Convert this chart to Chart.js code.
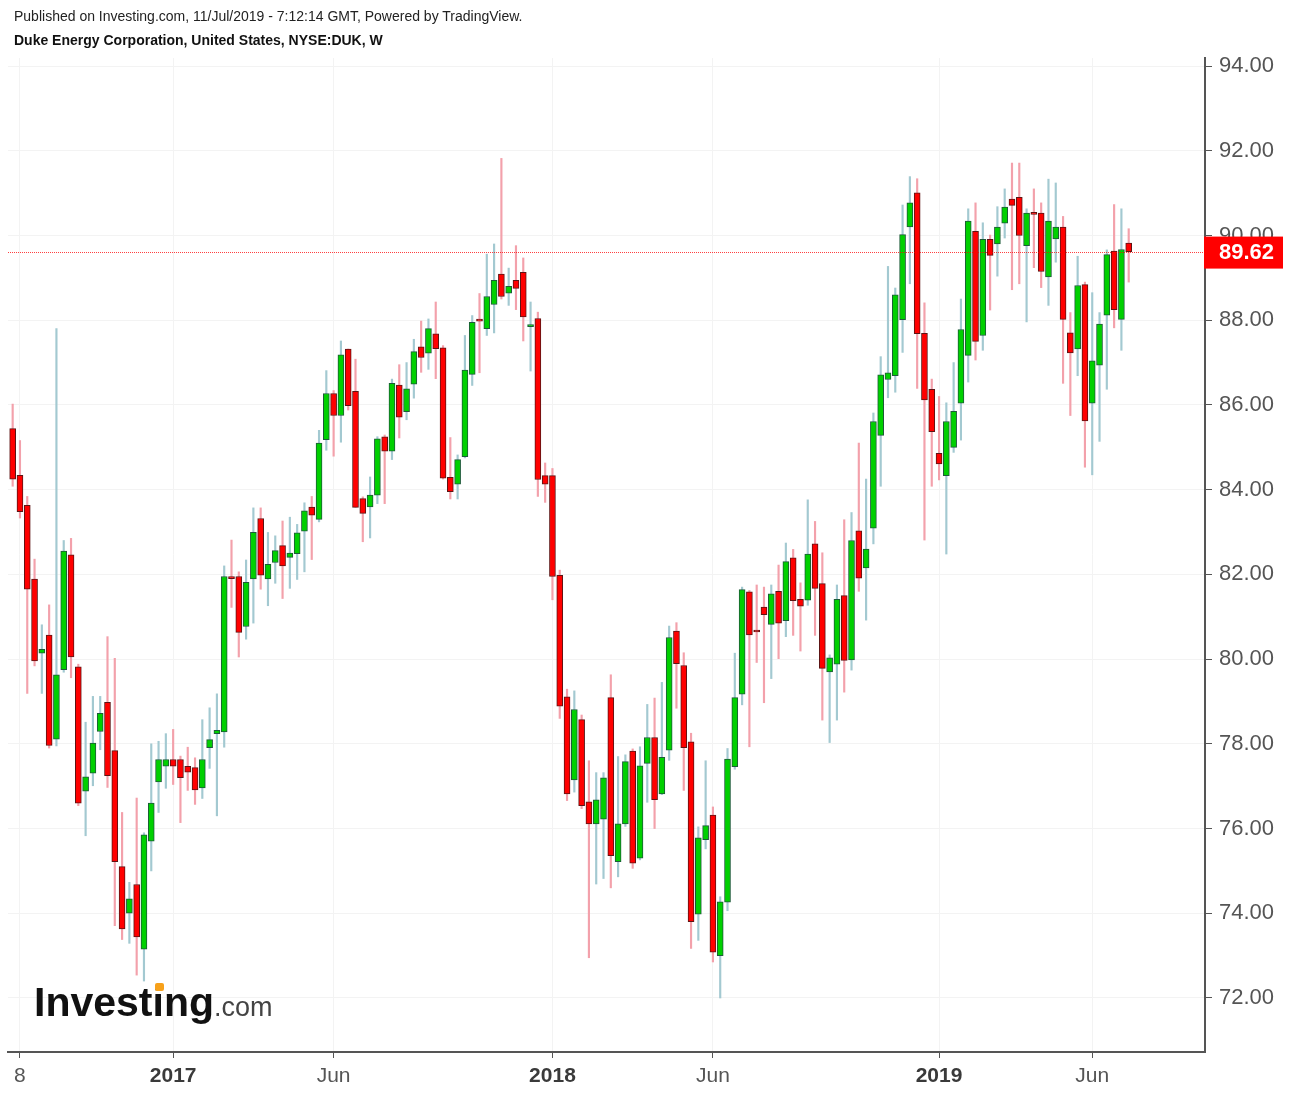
<!DOCTYPE html>
<html>
<head>
<meta charset="utf-8">
<title>Duke Energy Corporation, NYSE:DUK, W</title>
<script src="https://cdn.jsdelivr.net/npm/chart.js@4.4.1/dist/chart.umd.min.js"></script>
<style>
  html, body { margin: 0; padding: 0; background: #fff; }
  #wrap { position: relative; width: 1290px; height: 1094px; overflow: hidden;
          font-family: Arial, "Liberation Sans", Helvetica, sans-serif; }
  #chart { position: absolute; left: 0; top: 0; }
  .hdr { position: absolute; left: 14px; font-size: 14px; line-height: 16px; color: #222; white-space: nowrap; }
  #pub { top: 8px; }
  #sym { top: 32px; font-weight: bold; color: #111; }
  #logo { position: absolute; left: 34px; top: 982px; line-height: 40px; white-space: nowrap; }
  #logo .main { font-size: 41px; font-weight: bold; color: #111; }
  #logo .dom { font-size: 27px; color: #444; }
  #logo .dot { position: absolute; left: 121px; top: 1px; width: 9px; height: 8px; background: #f7a11a; border-radius: 2px; }
</style>
</head>
<body>
<div id="wrap">
  <canvas id="chart" width="1290" height="1094"></canvas>
  <div class="hdr" id="pub">Published on Investing.com, 11/Jul/2019 - 7:12:14 GMT, Powered by TradingView.</div>
  <div class="hdr" id="sym">Duke Energy Corporation, United States, NYSE:DUK, W</div>
  <div id="logo"><span class="main">Investing</span><span class="dom">.com</span><span class="dot"></span></div>
</div>
<script>
// weekly candles, first week = 1 Aug 2016, last week = 8 Jul 2019
const opens = [85.44, 84.34, 83.63, 81.89, 80.14, 80.57, 78.11, 79.75, 82.46, 79.82,
  76.88, 77.31, 78.29, 78.98, 77.84, 75.10, 74.00, 74.68, 73.15, 75.70,
  77.10, 77.47, 77.63, 77.63, 77.47, 77.44, 76.96, 77.91, 78.24, 78.28,
  81.93, 81.95, 80.77, 81.89, 83.32, 81.89, 82.28, 82.68, 82.40, 82.49,
  83.02, 83.59, 83.30, 85.18, 86.27, 85.75, 87.32, 86.32, 83.79, 83.59,
  83.87, 85.25, 84.91, 86.47, 85.84, 86.49, 87.37, 87.22, 87.68, 87.35,
  84.29, 84.13, 84.78, 86.72, 88.00, 87.80, 88.37, 89.09, 88.64, 88.94,
  89.13, 87.85, 88.04, 84.33, 84.33, 81.98, 79.11, 77.15, 78.57, 76.63,
  76.11, 76.22, 79.09, 75.22, 76.11, 77.83, 75.30, 77.54, 78.15, 76.82,
  77.85, 80.66, 79.85, 78.05, 73.98, 75.74, 76.32, 73.00, 74.26, 77.46,
  79.17, 81.59, 80.67, 81.23, 80.82, 81.60, 80.91, 82.39, 81.41, 81.39,
  82.72, 81.78, 79.70, 79.88, 81.50, 79.98, 83.03, 82.15, 83.09, 85.28,
  86.60, 86.69, 88.01, 90.20, 91.01, 87.69, 86.37, 84.86, 84.33, 85.00,
  86.04, 87.17, 90.10, 87.64, 89.91, 89.80, 90.29, 90.86, 90.90, 89.76,
  90.52, 90.53, 89.02, 89.92, 90.20, 87.70, 87.32, 88.84, 86.04, 86.94,
  88.12, 89.63, 88.02, 89.82];
const highs = [86.02, 85.16, 83.84, 82.36, 80.81, 81.28, 87.80, 82.80, 82.85, 79.88,
  78.51, 79.12, 79.12, 80.53, 80.02, 76.38, 74.73, 76.72, 75.90, 78.00,
  78.06, 78.24, 78.34, 77.71, 77.92, 77.67, 78.57, 78.85, 79.18, 82.20,
  82.81, 82.06, 82.34, 83.57, 83.57, 82.99, 82.91, 83.26, 83.35, 83.18,
  83.69, 83.84, 85.40, 86.81, 86.34, 87.51, 87.32, 87.08, 83.83, 84.30,
  85.25, 85.29, 86.61, 86.95, 87.00, 87.55, 87.98, 88.03, 88.43, 87.40,
  85.23, 84.82, 87.64, 88.11, 88.63, 89.56, 89.80, 91.82, 89.23, 89.76,
  89.47, 88.43, 88.19, 84.63, 84.50, 82.10, 79.29, 79.25, 78.68, 77.60,
  77.32, 77.32, 79.63, 77.70, 77.74, 77.88, 77.93, 78.93, 79.08, 79.45,
  80.78, 80.86, 80.15, 78.25, 76.04, 77.60, 76.51, 74.39, 77.89, 80.14,
  81.70, 81.62, 81.75, 81.70, 81.75, 82.22, 82.74, 82.59, 81.80, 83.76,
  83.25, 82.51, 80.10, 81.75, 83.29, 83.46, 85.10, 84.25, 85.81, 87.14,
  89.27, 88.76, 90.72, 91.39, 91.34, 88.41, 86.61, 86.20, 86.05, 87.00,
  88.50, 90.63, 90.77, 90.30, 90.01, 90.68, 91.10, 91.71, 91.71, 90.63,
  91.10, 90.77, 91.33, 91.24, 90.45, 88.18, 89.51, 88.90, 88.65, 88.18,
  89.66, 90.73, 90.63, 90.16];
const lows = [84.08, 83.33, 79.19, 79.84, 79.19, 77.90, 77.95, 79.69, 79.56, 76.54,
  75.83, 77.01, 77.86, 76.97, 73.71, 73.38, 73.29, 72.54, 72.40, 75.00,
  76.38, 76.95, 77.04, 76.14, 76.90, 76.57, 76.71, 77.42, 76.30, 77.92,
  81.22, 80.05, 80.47, 80.85, 81.65, 81.26, 81.79, 81.43, 81.67, 81.88,
  82.06, 82.35, 83.24, 84.93, 84.79, 85.12, 85.88, 83.58, 82.77, 82.86,
  83.67, 83.67, 84.71, 85.22, 85.65, 86.16, 86.77, 86.84, 86.62, 84.25,
  83.78, 83.78, 84.75, 86.46, 86.76, 87.64, 87.70, 88.50, 88.35, 88.25,
  87.51, 86.80, 83.84, 83.70, 81.40, 78.60, 76.66, 76.86, 76.47, 72.95,
  74.69, 74.82, 74.60, 74.86, 76.05, 75.06, 75.26, 76.62, 76.00, 76.80,
  77.61, 78.84, 76.90, 73.17, 73.36, 75.52, 72.85, 72.00, 74.06, 77.40,
  78.92, 77.93, 79.92, 78.97, 79.54, 80.01, 80.53, 80.56, 80.19, 81.27,
  80.56, 78.56, 78.03, 78.56, 79.22, 79.74, 81.60, 80.92, 82.72, 84.08,
  86.17, 86.30, 87.24, 88.86, 86.39, 82.81, 84.08, 84.23, 82.48, 84.88,
  85.17, 86.54, 87.06, 87.29, 88.24, 89.04, 89.94, 88.72, 88.86, 87.96,
  89.24, 88.77, 88.35, 89.37, 86.51, 85.75, 86.69, 84.53, 84.35, 85.14,
  86.37, 87.82, 87.29, 88.90];
const closes = [84.25, 83.48, 81.65, 79.96, 80.23, 77.96, 79.63, 82.55, 80.05, 76.60,
  77.22, 78.02, 78.72, 77.25, 75.22, 73.63, 74.34, 73.44, 75.85, 76.60,
  77.63, 77.63, 77.47, 77.20, 77.33, 76.91, 77.63, 78.10, 78.32, 81.95,
  81.90, 80.63, 81.81, 82.99, 81.98, 82.24, 82.56, 82.20, 82.50, 82.98,
  83.50, 83.40, 85.10, 86.27, 85.75, 87.18, 85.98, 83.58, 83.44, 83.87,
  85.20, 84.91, 86.51, 85.71, 86.38, 87.26, 87.12, 87.80, 87.33, 84.27,
  83.95, 84.71, 86.82, 87.95, 87.98, 88.56, 88.94, 88.56, 88.80, 88.75,
  88.08, 87.87, 84.24, 84.13, 81.95, 78.89, 76.82, 78.81, 76.54, 76.11,
  76.68, 77.20, 75.36, 76.11, 77.58, 75.18, 77.48, 78.15, 76.68, 77.68,
  80.51, 79.89, 77.91, 73.80, 75.78, 76.07, 73.08, 74.27, 77.64, 79.09,
  81.64, 80.57, 80.64, 81.05, 81.54, 80.85, 82.30, 81.38, 81.25, 82.48,
  81.67, 79.78, 80.03, 81.41, 79.97, 82.80, 81.91, 82.60, 85.61, 86.71,
  86.76, 88.60, 90.02, 90.77, 87.68, 86.12, 85.37, 84.61, 85.61, 85.85,
  87.78, 90.34, 87.50, 89.91, 89.53, 90.20, 90.67, 90.71, 90.00, 90.53,
  90.50, 89.15, 90.34, 90.20, 88.02, 87.23, 88.82, 85.62, 87.04, 87.91,
  89.55, 88.25, 89.67, 89.62];

// x-axis ticks (week index) and their labels
const tickWeeks = [1, 22, 44, 74, 96, 127, 148];
const tickLabels = ['8', '2017', 'Jun', '2018', 'Jun', '2019', 'Jun'];
// y-axis ticks
const priceTicks = [72, 74, 76, 78, 80, 82, 84, 86, 88, 90, 92, 94];

const FONT = 'Arial, "Liberation Sans", Helvetica, sans-serif';
const lastPrice = closes[closes.length - 1];
const weeks = closes.map((_, i) => i);
const isUp = i => closes[i] >= opens[i];
const isYear = i => /^\d{4}$/.test(tickLabels[i]);

const xMin = -0.64, xMax = 163.46;
const yMin = 70.725, yMax = 94.19;

// dotted last-price line across the plot, red box with the price on the axis
const lastPriceMarker = {
  id: 'lastPriceMarker',
  afterDatasetsDraw(chart) {
    const { ctx, chartArea, scales } = chart;
    const y = Math.round(scales.y.getPixelForValue(lastPrice)) + 0.5;
    ctx.save();
    ctx.strokeStyle = 'rgba(255, 0, 0, 0.75)';
    ctx.lineWidth = 1;
    ctx.setLineDash([1, 1]);
    ctx.beginPath();
    ctx.moveTo(chartArea.left, y);
    ctx.lineTo(chartArea.right, y);
    ctx.stroke();
    ctx.restore();
  },
  afterDraw(chart) {
    const { ctx, chartArea, scales } = chart;
    const y = scales.y.getPixelForValue(lastPrice);
    ctx.save();
    ctx.fillStyle = '#ff0000';
    ctx.fillRect(chartArea.right - 1, y - 15, 79, 32);
    ctx.fillStyle = '#ffffff';
    ctx.font = 'bold 22px ' + FONT;
    ctx.textBaseline = 'middle';
    ctx.textAlign = 'left';
    ctx.fillText(lastPrice.toFixed(2), chartArea.right + 14, y + 1.5);
    ctx.restore();
  }
};

new Chart(document.getElementById('chart'), {
  type: 'bar',
  data: {
    datasets: [
      {
        data: weeks.map(i => ({ x: i, y: [lows[i], highs[i]] })),
        backgroundColor: weeks.map(i => isUp(i) ? '#a3c9d1' : '#f3a1ab'),
        barThickness: 1.5,
        grouped: false,
        order: 2
      },
      {
        data: weeks.map(i => ({ x: i, y: [opens[i], closes[i]] })),
        backgroundColor: weeks.map(i => isUp(i) ? '#00d000' : '#ff0000'),
        borderColor: weeks.map(i => isUp(i) ? '#1c5a38' : '#5c1414'),
        borderWidth: 1,
        borderSkipped: false,
        barThickness: 6,
        minBarLength: 2,
        grouped: false,
        order: 1
      }
    ]
  },
  options: {
    responsive: false,
    devicePixelRatio: 1,
    animation: false,
    events: [],
    layout: { padding: { top: 58, left: 8, right: 0, bottom: 0 } },
    plugins: {
      legend: { display: false },
      tooltip: { enabled: false }
    },
    scales: {
      x: {
        type: 'linear',
        min: xMin,
        max: xMax,
        offset: false,
        afterBuildTicks: s => { s.ticks = tickWeeks.map(v => ({ value: v })); },
        afterFit: s => { s.height = 42; },
        border: { display: true, color: '#555', width: 2 },
        grid: { offset: false, color: '#f3f3f3', tickColor: '#555', tickLength: 6 },
        ticks: {
          autoSkip: false,
          maxRotation: 0,
          padding: 6,
          color: c => isYear(c.index) ? '#3a3a3a' : '#555',
          font: c => ({ family: FONT, size: 21, weight: isYear(c.index) ? 'bold' : 'normal' }),
          callback: (v, i) => tickLabels[i]
        }
      },
      y: {
        position: 'right',
        min: yMin,
        max: yMax,
        afterBuildTicks: s => { s.ticks = priceTicks.map(v => ({ value: v })); },
        afterFit: s => { s.width = 85; },
        border: { display: true, color: '#555', width: 2 },
        grid: { color: '#f3f3f3', tickColor: '#555', tickLength: 7 },
        ticks: {
          color: '#555',
          padding: 7,
          font: { family: FONT, size: 22 },
          callback: v => v.toFixed(2)
        }
      }
    }
  },
  plugins: [lastPriceMarker]
});
</script>
</body>
</html>
